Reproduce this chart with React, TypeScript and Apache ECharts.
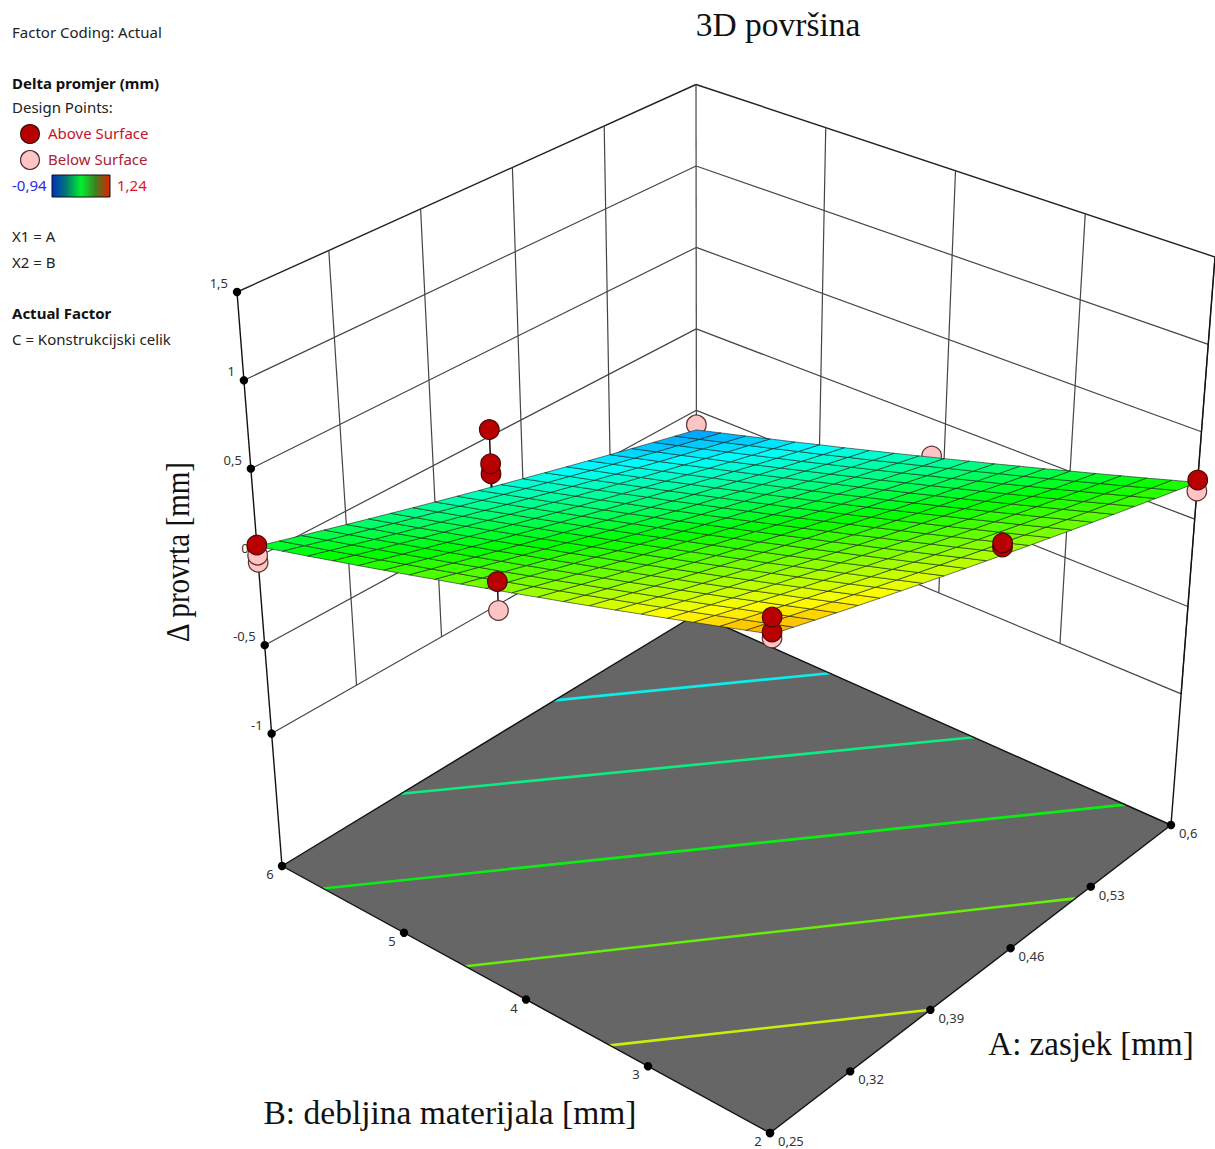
import React, { useEffect, useRef } from "react";
import * as echarts from "echarts";

const aTicks = [0.25, 0.32, 0.39, 0.46, 0.53, 0.6];
const bTicks = [2, 3, 4, 5, 6];
const zTicks = [-1, -0.5, 0, 0.5, 1, 1.5];
const aLabels = ["0,25", "0,32", "0,39", "0,46", "0,53", "0,6"];
const bLabels = ["2", "3", "4", "5", "6"];
const zLabels = ["-1", "-0,5", "0", "0,5", "1", "1,5"];
const zFloor = -1.75;
const zMin = -0.94;
const zMax = 1.24;
const contourLevels = [-0.387, -0.135, 0.13, 0.372, 0.618];

// rows: B from 2 to 6, columns: A from 0.25 to 0.6
const surfaceZ = [
  [0.890,0.856,0.822,0.788,0.754,0.720,0.686,0.652,0.618,0.584,0.550,0.516,0.482,0.448,0.414,0.380,0.346,0.312,0.278,0.244,0.210],
  [0.849,0.815,0.781,0.747,0.713,0.679,0.645,0.611,0.577,0.543,0.509,0.475,0.441,0.407,0.373,0.339,0.305,0.271,0.237,0.203,0.169],
  [0.807,0.773,0.739,0.705,0.671,0.637,0.603,0.569,0.535,0.501,0.467,0.433,0.399,0.365,0.331,0.297,0.263,0.229,0.195,0.161,0.127],
  [0.766,0.732,0.698,0.664,0.630,0.596,0.562,0.528,0.494,0.460,0.426,0.392,0.358,0.324,0.290,0.256,0.222,0.188,0.154,0.120,0.086],
  [0.724,0.690,0.656,0.622,0.588,0.554,0.520,0.486,0.452,0.418,0.384,0.350,0.316,0.282,0.248,0.214,0.180,0.146,0.112,0.078,0.044],
  [0.683,0.649,0.615,0.581,0.547,0.513,0.479,0.445,0.411,0.377,0.343,0.309,0.275,0.241,0.207,0.173,0.139,0.105,0.071,0.037,0.003],
  [0.641,0.607,0.573,0.539,0.505,0.471,0.437,0.403,0.369,0.335,0.301,0.267,0.233,0.199,0.165,0.131,0.097,0.063,0.029,-0.005,-0.039],
  [0.600,0.566,0.532,0.498,0.464,0.430,0.396,0.362,0.328,0.294,0.260,0.226,0.192,0.158,0.124,0.090,0.056,0.022,-0.012,-0.046,-0.080],
  [0.558,0.524,0.490,0.456,0.422,0.388,0.354,0.320,0.286,0.252,0.218,0.184,0.150,0.116,0.082,0.048,0.014,-0.020,-0.054,-0.088,-0.122],
  [0.517,0.483,0.449,0.415,0.381,0.347,0.313,0.279,0.245,0.211,0.177,0.143,0.109,0.075,0.041,0.007,-0.027,-0.061,-0.095,-0.129,-0.163],
  [0.475,0.441,0.407,0.373,0.339,0.305,0.271,0.237,0.203,0.169,0.135,0.101,0.067,0.033,-0.001,-0.035,-0.069,-0.103,-0.137,-0.171,-0.205],
  [0.434,0.400,0.366,0.332,0.298,0.264,0.230,0.196,0.162,0.128,0.094,0.060,0.026,-0.008,-0.042,-0.076,-0.110,-0.144,-0.178,-0.212,-0.246],
  [0.392,0.358,0.324,0.290,0.256,0.222,0.188,0.154,0.120,0.086,0.052,0.018,-0.016,-0.050,-0.084,-0.118,-0.152,-0.186,-0.220,-0.254,-0.288],
  [0.351,0.317,0.283,0.249,0.215,0.181,0.147,0.113,0.079,0.045,0.011,-0.023,-0.057,-0.091,-0.125,-0.159,-0.193,-0.227,-0.261,-0.295,-0.329],
  [0.309,0.275,0.241,0.207,0.173,0.139,0.105,0.071,0.037,0.003,-0.031,-0.065,-0.099,-0.133,-0.167,-0.201,-0.235,-0.269,-0.303,-0.337,-0.371],
  [0.268,0.234,0.200,0.166,0.132,0.098,0.064,0.030,-0.004,-0.038,-0.072,-0.106,-0.140,-0.174,-0.208,-0.242,-0.276,-0.310,-0.344,-0.378,-0.412],
  [0.226,0.192,0.158,0.124,0.090,0.056,0.022,-0.012,-0.046,-0.080,-0.114,-0.148,-0.182,-0.216,-0.250,-0.284,-0.318,-0.352,-0.386,-0.420,-0.454],
  [0.185,0.151,0.117,0.083,0.049,0.015,-0.019,-0.053,-0.087,-0.121,-0.155,-0.189,-0.223,-0.257,-0.291,-0.325,-0.359,-0.393,-0.427,-0.461,-0.495],
  [0.143,0.109,0.075,0.041,0.007,-0.027,-0.061,-0.095,-0.129,-0.163,-0.197,-0.231,-0.265,-0.299,-0.333,-0.367,-0.401,-0.435,-0.469,-0.503,-0.537],
  [0.102,0.068,0.034,0.000,-0.034,-0.068,-0.102,-0.136,-0.170,-0.204,-0.238,-0.272,-0.306,-0.340,-0.374,-0.408,-0.442,-0.476,-0.510,-0.544,-0.578],
  [0.060,0.026,-0.008,-0.042,-0.076,-0.110,-0.144,-0.178,-0.212,-0.246,-0.280,-0.314,-0.348,-0.382,-0.416,-0.450,-0.484,-0.518,-0.552,-0.586,-0.620],
];

// design points [A, B, response]
const abovePoints = [
  [0.25, 6, 0.067],
  [0.6, 2, 0.224],
  [0.25, 4.107, 0.502],
  [0.25, 2, 0.902],
  [0.25, 2, 0.981],
  [0.4375, 2, 0.572],
  [0.4375, 2, 0.594],
  [0.435, 6, -0.22],
  [0.435, 6, -0.161],
  [0.435, 6, 0.04],
];
const belowPoints = [
  [0.25, 6, -0.03],
  [0.25, 6, 0.01],
  [0.6, 2, 0.161],
  [0.25, 4.107, 0.343],
  [0.25, 2, 0.87],
];
const hiddenBelowPoints = [
  [0.6, 6, -0.589],
  [0.6, 4.1, -0.218],
];

// box of the plot on the page: corner pixels [x, y] at floor and top, by (A low/high, B low/high)
const floorBox = { lowLow: [770, 1133], highLow: [1171, 825], lowHigh: [282, 866], highHigh: [696.6, 614] };
const topBox = { lowLow: [772.5, 519], highLow: [1215, 257], lowHigh: [237, 292], highHigh: [696, 84.5] };

function project(a: number, b: number, z: number) {
  const u = (a - 0.25) / 0.35;
  const v = (b - 2) / 4;
  const w = (z - zFloor) / (1.5 - zFloor);
  const mix = (box: typeof floorBox, n: number) =>
    (1 - u) * (1 - v) * box.lowLow[n] + u * (1 - v) * box.highLow[n] + (1 - u) * v * box.lowHigh[n] + u * v * box.highHigh[n];
  return [0, 1].map((n) => (1 - w) * mix(floorBox, n) + w * mix(topBox, n));
}

const gridN = surfaceZ.length - 1;
const colA = (i: number) => 0.25 + (0.35 * i) / gridN;
const rowB = (j: number) => 2 + (4 * j) / gridN;
function surfaceAt(a: number, b: number) {
  const fi = Math.min(gridN - 1e-6, ((a - 0.25) / 0.35) * gridN);
  const fj = Math.min(gridN - 1e-6, ((b - 2) / 4) * gridN);
  const i = Math.floor(fi);
  const j = Math.floor(fj);
  const s = fi - i;
  const t = fj - j;
  return (
    surfaceZ[j][i] * (1 - s) * (1 - t) +
    surfaceZ[j][i + 1] * s * (1 - t) +
    surfaceZ[j + 1][i] * (1 - s) * t +
    surfaceZ[j + 1][i + 1] * s * t
  );
}

const stops = [
  [0, 0, 255],
  [0, 255, 255],
  [0, 255, 0],
  [255, 255, 0],
  [255, 0, 0],
];
function colorOf(z: number) {
  const t = Math.max(0, Math.min(0.9999, (z - zMin) / (zMax - zMin))) * 4;
  const k = Math.floor(t);
  const f = t - k;
  const c = stops[k].map((v, n) => Math.round(v + (stops[k + 1][n] - v) * f));
  return `rgb(${c[0]},${c[1]},${c[2]})`;
}

const hiddenAxes = {
  xAxis: { type: "value", min: 0, max: 1215, show: false },
  yAxis: { type: "value", min: 0, max: 1149, inverse: true, show: false },
};

const toPx = (api: any, a: number, b: number, z: number) => api.coord(project(a, b, z));
const segment = (api: any, p: number[], q: number[], stroke: string, lineWidth: number, opacity = 1) => {
  const s = toPx(api, p[0], p[1], p[2]);
  const e = toPx(api, q[0], q[1], q[2]);
  return {
    type: "line",
    shape: { x1: s[0], y1: s[1], x2: e[0], y2: e[1] },
    style: { stroke, lineWidth, opacity },
  };
};

const customBase = { type: "custom", coordinateSystem: "cartesian2d", silent: true, animation: false };

function lineSeries(data: number[][], stroke: (d: number[]) => string, width: (d: number[]) => number) {
  return {
    ...customBase,
    data,
    renderItem: (_: any, api: any) => {
      const d = [0, 1, 2, 3, 4, 5].map((n) => api.value(n));
      return segment(api, d.slice(0, 3), d.slice(3, 6), stroke(d), width(d));
    },
  };
}

function stemSeries(data: number[][]) {
  return {
    ...customBase,
    data,
    renderItem: (_: any, api: any) => {
      const a = api.value(0);
      const b = api.value(1);
      return segment(api, [a, b, api.value(2)], [a, b, surfaceAt(a, b)], "#111", 1.5);
    },
  };
}

function pointSeries(data: number[][], fill: string, stroke: string) {
  return {
    ...customBase,
    data,
    renderItem: (_: any, api: any) => {
      const c = toPx(api, api.value(0), api.value(1), api.value(2));
      return {
        type: "circle",
        shape: { cx: c[0], cy: c[1], r: 9.8 },
        style: { fill, stroke, lineWidth: 1.2 },
      };
    },
  };
}

const wallLines: number[][] = [];
for (const z of zTicks) {
  wallLines.push([0.25, 6, z, 0.6, 6, z]);
  wallLines.push([0.6, 6, z, 0.6, 2, z]);
}
for (const a of aTicks.slice(1)) wallLines.push([a, 6, -1, a, 6, 1.5]);
for (const b of bTicks.slice(0, -1)) wallLines.push([0.6, b, -1, 0.6, b, 1.5]);

const frameLines = [
  [0.25, 6, zFloor, 0.25, 6, 1.5],
  [0.6, 2, zFloor, 0.6, 2, 1.5],
  [0.25, 6, zFloor, 0.25, 2, zFloor],
  [0.25, 2, zFloor, 0.6, 2, zFloor],
  [0.25, 6, zFloor, 0.6, 6, zFloor],
  [0.6, 6, zFloor, 0.6, 2, zFloor],
];

const tickDots: number[][] = [
  ...zTicks.map((z) => [0.25, 6, z]),
  ...aTicks.map((a) => [a, 2, zFloor]),
  ...bTicks.map((b) => [0.25, b, zFloor]),
];

type Lab = { text: string; p: number[]; dx: number; dy: number; align: string };
const tickLabels: Lab[] = [
  ...zTicks.map((z, i) => ({ text: zLabels[i], p: [0.25, 6, z], dx: -9, dy: -9, align: "right" })),
  ...aTicks.map((a, i) => ({ text: aLabels[i], p: [a, 2, zFloor], dx: 8, dy: 8, align: "left" })),
  ...bTicks.map((b, i) => ({ text: bLabels[i], p: [0.25, b, zFloor], dx: -12, dy: 8, align: "center" })),
];

const cellData: number[][] = [];
for (let j = 0; j < gridN; j++) for (let i = 0; i < gridN; i++) cellData.push([i, j]);

const sideText = "'Noto Sans', sans-serif";
const serif = "'Liberation Serif', serif";
const sideTexts = [
  ["Factor Coding: Actual", 12, 32, "#222", "normal"],
  ["Delta promjer (mm)", 12, 83, "#111", "bold"],
  ["Design Points:", 12, 107, "#222", "normal"],
  ["Above Surface", 48, 133, "#c0142c", "normal"],
  ["Below Surface", 48, 159, "#b02030", "normal"],
  ["-0,94", 12, 185, "#2a2ae0", "normal"],
  ["1,24", 117, 185, "#e0142c", "normal"],
  ["X1 = A", 12, 236, "#222", "normal"],
  ["X2 = B", 12, 262, "#222", "normal"],
  ["Actual Factor", 12, 313, "#111", "bold"],
  ["C = Konstrukcijski celik", 12, 339, "#222", "normal"],
];
const bigTexts = [
  ["3D površina", 778, 24, 0, 33.5, 1],
  ["A: zasjek [mm]", 1091, 1044, 0, 33, 1],
  ["B: debljina materijala [mm]", 450, 1112, 0, 33.5, 1],
  ["Δ provrta [mm]", 178, 552, Math.PI / 2, 33, 0.88],
];

export default function App() {
  const ref = useRef<HTMLDivElement>(null);
  useEffect(() => {
    const chart = echarts.init(ref.current!, undefined, { renderer: "svg" });
    chart.setOption({
      animation: false,
      backgroundColor: "#fff",
      grid: { left: 0, right: 0, top: 0, bottom: 0 },
      ...hiddenAxes,
      graphic: [
        ...sideTexts.map(([text, x, y, fill, weight]) => ({
          type: "text",
          x,
          y,
          silent: true,
          style: {
            text,
            fill,
            font: `${weight} 15px ${sideText}`,
            verticalAlign: "middle",
            align: "left",
          },
        })),
        ...bigTexts.map(([text, x, y, rotation, size, scaleX]) => ({
          type: "text",
          x,
          y,
          rotation,
          scaleX,
          silent: true,
          style: {
            text,
            fill: "#111",
            font: `${size}px ${serif}`,
            verticalAlign: "middle",
            align: "center",
          },
        })),
        {
          type: "circle",
          shape: { cx: 30, cy: 134, r: 9.4 },
          style: { fill: "#b80000", stroke: "#3a0a0a", lineWidth: 1.2 },
        },
        {
          type: "circle",
          shape: { cx: 30, cy: 160, r: 9.4 },
          style: { fill: "#ffc4c4", stroke: "#4a2a2a", lineWidth: 1.2 },
        },
        {
          type: "rect",
          shape: { x: 52, y: 175, width: 58, height: 22 },
          style: {
            stroke: "#111",
            lineWidth: 1,
            fill: new echarts.graphic.LinearGradient(0, 0, 1, 0, [
              { offset: 0, color: "#0030c0" },
              { offset: 0.25, color: "#007a70" },
              { offset: 0.5, color: "#00f030" },
              { offset: 0.75, color: "#3f8020" },
              { offset: 1, color: "#e02000" },
            ]),
          },
        },
      ],
      series: [
        lineSeries(
          wallLines,
          (d) => (d[2] === 1.5 && d[5] === 1.5 ? "#222" : "#444"),
          (d) => (d[2] === 1.5 && d[5] === 1.5 ? 1.4 : 1.2)
        ),
        {
          ...customBase,
          data: [[0.25, 6, 0.6, 6, 0.6, 2, 0.25, 2]],
          renderItem: (_: any, api: any) => ({
            type: "polygon",
            shape: {
              points: [0, 2, 4, 6].map((n) => toPx(api, api.value(n), api.value(n + 1), zFloor)),
            },
            style: { fill: "#666666" },
          }),
        },
        {
          ...customBase,
          data: contourLevels.map((l) => [l]),
          renderItem: (_: any, api: any) => {
            const level = api.value(0);
            const cross: number[][] = [];
            for (let j = 0; j < gridN; j++) {
              for (let i = 0; i < gridN; i++) {
                const corners = [
                  [colA(i), rowB(j), surfaceZ[j][i]],
                  [colA(i + 1), rowB(j), surfaceZ[j][i + 1]],
                  [colA(i + 1), rowB(j + 1), surfaceZ[j + 1][i + 1]],
                  [colA(i), rowB(j + 1), surfaceZ[j + 1][i]],
                ];
                for (let k = 0; k < 4; k++) {
                  const p = corners[k];
                  const q = corners[(k + 1) % 4];
                  if (p[2] !== q[2] && (p[2] - level) * (q[2] - level) <= 0) {
                    const f = (level - p[2]) / (q[2] - p[2]);
                    cross.push([p[0] + (q[0] - p[0]) * f, p[1] + (q[1] - p[1]) * f, zFloor]);
                  }
                }
              }
            }
            const px = cross.map((c) => project(c[0], c[1], c[2])[0]);
            const first = cross[px.indexOf(Math.min(...px))];
            const last = cross[px.indexOf(Math.max(...px))];
            return segment(api, first, last, colorOf(level), 2.6, 0.88);
          },
        },
        lineSeries(frameLines, () => "#111", () => 1.4),
        stemSeries(hiddenBelowPoints),
        pointSeries(hiddenBelowPoints, "#ffc4c4", "#5a3030"),
        {
          ...customBase,
          data: cellData,
          renderItem: (_: any, api: any) => {
            const i = api.value(0);
            const j = api.value(1);
            const zs = [surfaceZ[j][i], surfaceZ[j][i + 1], surfaceZ[j + 1][i + 1], surfaceZ[j + 1][i]];
            const pts = [
              toPx(api, colA(i), rowB(j), zs[0]),
              toPx(api, colA(i + 1), rowB(j), zs[1]),
              toPx(api, colA(i + 1), rowB(j + 1), zs[2]),
              toPx(api, colA(i), rowB(j + 1), zs[3]),
            ];
            return {
              type: "polygon",
              shape: { points: pts },
              style: {
                fill: colorOf((zs[0] + zs[1] + zs[2] + zs[3]) / 4),
                stroke: "rgba(20,30,20,0.75)",
                lineWidth: 0.8,
              },
            };
          },
        },
        {
          ...customBase,
          data: tickLabels.map((_, n) => [n]),
          renderItem: (_: any, api: any) => {
            const l = tickLabels[api.value(0)];
            const c = toPx(api, l.p[0], l.p[1], l.p[2]);
            return {
              type: "text",
              x: c[0] + l.dx,
              y: c[1] + l.dy,
              style: {
                text: l.text,
                fill: "#333",
                font: `13px ${sideText}`,
                align: l.align,
                verticalAlign: "middle",
              },
            };
          },
        },
        {
          ...customBase,
          data: tickDots,
          renderItem: (_: any, api: any) => {
            const c = toPx(api, api.value(0), api.value(1), api.value(2));
            return { type: "circle", shape: { cx: c[0], cy: c[1], r: 4.2 }, style: { fill: "#000" } };
          },
        },
        stemSeries(belowPoints),
        stemSeries(abovePoints),
        pointSeries(belowPoints, "#ffc4c4", "#5a3030"),
        pointSeries(abovePoints, "#b80000", "#4a0808"),
      ],
    });
    return () => chart.dispose();
  }, []);
  return <div ref={ref} style={{ position: "fixed", left: 0, top: 0, width: 1215, height: 1149 }} />;
}
